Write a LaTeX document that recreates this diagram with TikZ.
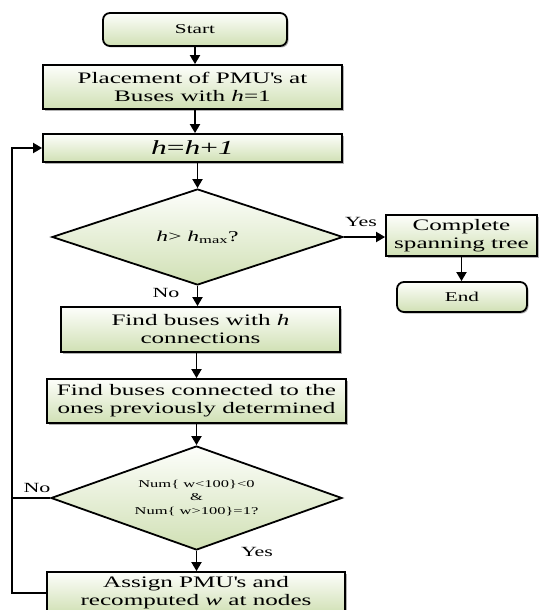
\documentclass[tikz,border=0pt]{standalone}
\usepackage{fontspec}
\setmainfont{Liberation Serif}[FakeStretch=1.57]
\usetikzlibrary{arrows.meta,shapes.geometric,shadows}
\definecolor{gbot}{RGB}{208,224,180}
\definecolor{gtop}{RGB}{253,254,251}
\tikzset{
  shade/.style={top color=gtop, bottom color=gbot},
  box/.style={draw=black, line width=1.8pt, shade, align=center, inner sep=0pt,
    font=\fontsize{16}{18}\selectfont,
    drop shadow={shadow xshift=1.5pt, shadow yshift=-1.5pt, fill=black, opacity=0.3}},
  rbox/.style={box, rounded corners=7pt, font=\fontsize{13.5}{16}\selectfont},
  dia/.style={diamond, draw=black, line width=1.8pt, shade, shape aspect=2.8,
    inner sep=0pt, align=center},
  arr/.style={line width=1.8pt, -{Triangle[length=9pt,width=10pt]}},
  conn/.style={line width=1.8pt},
  lbl/.style={font=\fontsize{14}{16}\selectfont, inner sep=0pt}
}
\begin{document}
\begin{tikzpicture}[x=1pt,y=-1pt]
\useasboundingbox (0,0) rectangle (539,610);
\node[rbox, minimum width=184pt, minimum height=33pt] (start) at (195,29.5) {Start};
\node[box, minimum width=299pt, minimum height=44pt] (place) at (192.5,87) {Placement of PMU\textquotesingle s at\\Buses with \textit{h}=1};
\node[box, minimum width=299pt, minimum height=28pt, font=\fontsize{20}{24}\selectfont] (hh) at (192.5,148) {\textit{h}=\textit{h}+\textit{1}};
\node[dia, minimum width=291pt, minimum height=96pt, font=\fontsize{15}{18}\selectfont] (d1) at (197.5,237) {\textit{h}> \textit{h}\textsubscript{max}?};
\node[box, minimum width=151pt, minimum height=41pt] (comp) at (461.5,235.5) {Complete\\spanning tree};
\node[rbox, minimum width=130pt, minimum height=30pt] (end) at (462,297) {End};
\node[box, minimum width=279pt, minimum height=45pt] (find1) at (200.5,329.5) {Find buses with \textit{h}\\connections};
\node[box, minimum width=299pt, minimum height=44pt] (find2) at (196.5,401) {Find buses connected to the\\ones previously determined};
\node[dia, minimum width=291pt, minimum height=104pt, font=\fontsize{10.5}{13.5}\selectfont] (d2) at (196.5,498) {Num\{ w<100\}<0\\\&\\Num\{ w>100\}=1?};
\node[box, minimum width=298pt, minimum height=42pt] (assign) at (196,593) {Assign PMU\textquotesingle s and\\recomputed \textit{w} at nodes};
\coordinate (lx) at (12,0);

\draw[arr] (start.south) -- (start.south |- place.north);
\draw[arr] (place.south -| start.south) -- (start.south |- hh.north);
\draw[arr] (d1.north |- hh.south) -- (d1.north);
\draw[arr] (d1.east) -- (d1.east -| comp.west);
\draw[arr] (comp.south) -- (comp.south |- end.north);
\draw[arr] (d1.south) -- (d1.south |- find1.north);
\draw[arr] (find2.north |- find1.south) -- (find2.north);
\draw[arr] (d2.north |- find2.south) -- (d2.north);
\draw[arr] (d2.south) -- (d2.south |- assign.north);
\draw[arr] (assign.west) -- (lx |- assign.west) -- (lx |- hh.west) -- (hh.west);
\draw[conn] (d2.west) -- (lx |- d2.west);

\node[lbl] (yes1) at (361,222) {Yes};
\node[lbl] (no1) at (166,293) {No};
\node[lbl] (no2) at (37,488) {No};
\node[lbl] (yes2) at (257,552) {Yes};
\end{tikzpicture}
\end{document}
